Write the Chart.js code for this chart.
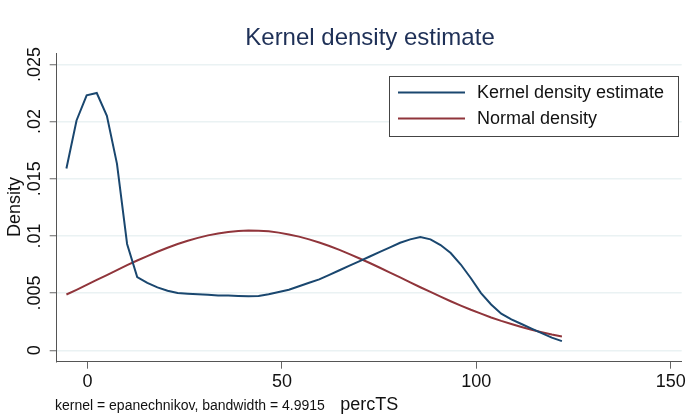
<!DOCTYPE html>
<html>
<head>
<meta charset="utf-8">
<script src="https://cdn.jsdelivr.net/npm/chart.js@4/dist/chart.umd.min.js"></script>
<style>
  html, body { margin: 0; padding: 0; background: #fff; }
  #wrap { width: 697px; height: 417px; }
</style>
</head>
<body>
<div id="wrap"><canvas id="kde" width="697" height="417"></canvas></div>
<script>
// puntos de evaluacion (percTS)
const gridX = [
  -5.4, -2.8, -0.2, 2.4, 5.0, 7.6, 10.2, 12.8, 15.4, 18.0,
  20.6, 23.2, 25.8, 28.4, 31.0, 33.6, 36.2, 38.8, 41.4, 44.0,
  46.6, 49.2, 51.8, 54.4, 57.0, 59.6, 62.2, 64.8, 67.4, 70.0,
  72.6, 75.2, 77.8, 80.4, 83.0, 85.6, 88.2, 90.8, 93.4, 96.0,
  98.6, 101.2, 103.8, 106.4, 109.0, 111.6, 114.2, 116.8, 119.4, 122.0
];
// densidad kernel
const kernelY = [
  0.0159, 0.0201, 0.0223, 0.0225, 0.0205, 0.0163, 0.0093, 0.0064, 0.0059, 0.0055,
  0.0052, 0.0050, 0.00495, 0.0049, 0.00485, 0.0048, 0.00478, 0.00475, 0.00473, 0.00475,
  0.0049, 0.0051, 0.0053, 0.0056, 0.0059, 0.0062, 0.0066, 0.0070, 0.0074, 0.0078,
  0.0082, 0.0086, 0.0090, 0.0094, 0.0097, 0.0099, 0.0097, 0.0092, 0.0085, 0.0075,
  0.0063, 0.0050, 0.0040, 0.0032, 0.0027, 0.0023, 0.0019, 0.0015, 0.0011, 0.0008
];
// densidad normal
const normalY = [
  0.00488, 0.00529, 0.00572, 0.00615, 0.00658, 0.00701, 0.00744, 0.00785, 0.00824, 0.00862,
  0.00897, 0.00929, 0.00958, 0.00983, 0.01005, 0.01022, 0.01035, 0.01043, 0.01047, 0.01046,
  0.01040, 0.01029, 0.01013, 0.00994, 0.00970, 0.00942, 0.00912, 0.00878, 0.00841, 0.00803,
  0.00763, 0.00722, 0.00679, 0.00637, 0.00594, 0.00551, 0.00510, 0.00469, 0.00429, 0.00391,
  0.00354, 0.00320, 0.00287, 0.00257, 0.00230, 0.00204, 0.00180, 0.00158, 0.00138, 0.00121
];
const xTicks = [0, 50, 100, 150];
const yTicks = [0, 0.005, 0.01, 0.015, 0.02, 0.025];
const yTickLabels = ["0", ".005", ".01", ".015", ".02", ".025"];
const seriesNames = ["Kernel density estimate", "Normal density"];

const FONT = "'Liberation Sans', Arial, sans-serif";
const NAVY = "#1a476f";
const MAROON = "#90353b";

// textos y leyenda estilo Stata
const stataDecor = {
  id: "stataDecor",
  afterDraw(chart) {
    const c = chart.ctx;
    const ys = chart.scales.y;
    const area = chart.chartArea;
    c.save();

    // titulo
    c.fillStyle = "#1e3057";
    c.font = "24px " + FONT;
    c.textAlign = "center";
    c.textBaseline = "alphabetic";
    c.fillText("Kernel density estimate", 370, 45);

    // etiquetas del eje y giradas
    c.fillStyle = "#111";
    c.font = "18px " + FONT;
    yTicks.forEach((v, i) => {
      const py = ys.getPixelForValue(v);
      c.save();
      c.translate(35, py);
      c.rotate(-Math.PI / 2);
      c.textAlign = "center";
      c.textBaseline = "middle";
      c.fillText(yTickLabels[i], 0, 0);
      c.restore();
    });

    // titulo eje y
    c.save();
    c.translate(15, 207);
    c.rotate(-Math.PI / 2);
    c.textAlign = "center";
    c.textBaseline = "middle";
    c.fillText("Density", 0, 0);
    c.restore();

    // titulo eje x y nota
    c.textAlign = "center";
    c.textBaseline = "alphabetic";
    c.fillText("percTS", (area.left + area.right) / 2, 410);
    c.font = "14px " + FONT;
    c.textAlign = "left";
    c.fillText("kernel = epanechnikov, bandwidth = 4.9915", 55, 410);

    // leyenda con marco
    const lx = 389.5, ly = 76.5, lw = 289, lh = 60;
    c.fillStyle = "#fff";
    c.fillRect(lx, ly, lw, lh);
    c.strokeStyle = "#444";
    c.lineWidth = 1;
    c.strokeRect(lx, ly, lw, lh);
    const rows = [92.5, 118.5];
    const cols = [NAVY, MAROON];
    c.font = "18px " + FONT;
    c.textBaseline = "middle";
    rows.forEach((ry, i) => {
      c.strokeStyle = cols[i];
      c.lineWidth = 2;
      c.beginPath();
      c.moveTo(398, ry);
      c.lineTo(465, ry);
      c.stroke();
      c.fillStyle = "#111";
      c.fillText(seriesNames[i], 477, ry + 1);
    });
    c.restore();
  }
};

const ctx = document.getElementById("kde").getContext("2d");
const kdeChart = new Chart(ctx, {
  type: "line",
  data: {
    datasets: [
      {
        label: seriesNames[0],
        data: gridX.map((x, i) => ({ x: x, y: kernelY[i] })),
        borderColor: NAVY,
        borderWidth: 2,
        pointRadius: 0,
        tension: 0,
      },
      {
        label: seriesNames[1],
        data: gridX.map((x, i) => ({ x: x, y: normalY[i] })),
        borderColor: MAROON,
        borderWidth: 2,
        pointRadius: 0,
        tension: 0,
      },
    ],
  },
  options: {
    responsive: false,
    animation: false,
    devicePixelRatio: 1,
    layout: { padding: { top: 53, right: 15.3, bottom: 0, left: 0 } },
    plugins: {
      legend: { display: false },
      title: { display: false },
      tooltip: { enabled: false },
    },
    scales: {
      x: {
        type: "linear",
        min: -7.9,
        max: 152.8,
        afterBuildTicks: (scale) => {
          scale.ticks = xTicks.map((v) => ({ value: v }));
        },
        afterFit: (scale) => {
          scale.height = 55.3;
        },
        ticks: {
          color: "#111",
          font: { family: FONT, size: 18 },
          padding: 3,
          maxRotation: 0,
          autoSkip: false,
        },
        grid: {
          drawOnChartArea: false,
          tickLength: 7,
          tickColor: "#666",
          tickWidth: 1,
        },
        border: { display: true, color: "#555", width: 1 },
      },
      y: {
        type: "linear",
        min: -0.001,
        max: 0.026,
        afterBuildTicks: (scale) => {
          scale.ticks = yTicks.map((v) => ({ value: v }));
        },
        afterFit: (scale) => {
          scale.width = 56.7;
        },
        ticks: {
          callback: () => "",
          autoSkip: false,
        },
        grid: {
          color: "#eaf2f3",
          lineWidth: 1.5,
          tickLength: 7,
          tickColor: "#666",
          tickWidth: 1,
        },
        border: { display: true, color: "#555", width: 1 },
      },
    },
  },
  plugins: [stataDecor],
});
</script>
</body>
</html>
